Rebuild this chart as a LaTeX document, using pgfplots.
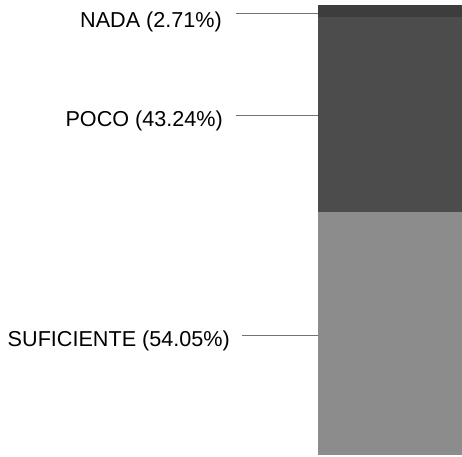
\documentclass[border=0pt]{standalone}
\usepackage{fontspec}
\setmainfont{Liberation Sans}
\usepackage{pgfplots}
\pgfplotsset{compat=1.18}
\tikzset{lbl/.style={inner sep=0pt, anchor=base east, font=\fontsize{21.6bp}{26bp}\selectfont}}
\begin{document}
\begin{tikzpicture}
\useasboundingbox (0,0) rectangle (462bp,457bp);
\begin{axis}[
  at={(0,2bp)}, anchor=south west,
  scale only axis, width=462bp, height=450bp,
  xmin=0, xmax=462, ymin=0, ymax=100,
  hide axis, clip=false,
  ybar stacked, bar width=144,
]
\addplot[fill=black!45, draw=none] coordinates {(390,54.05)};
\addplot[fill=black!70, draw=none] coordinates {(390,43.24)};
\addplot[fill=black!76, draw=none] coordinates {(390,2.71)};
\node[lbl] at (axis cs:222,95.1) {NADA (2.71\%)};
\node[lbl] at (axis cs:223,72.9) {POCO (43.24\%)};
\node[lbl] at (axis cs:230,24.0) {SUFICIENTE (54.05\%)};
\draw[black!55, line width=0.5pt] (axis cs:236,98.2) -- (axis cs:318,98.2);
\draw[black!55, line width=0.5pt] (axis cs:236,75.6) -- (axis cs:318,75.6);
\draw[black!55, line width=0.5pt] (axis cs:242,26.7) -- (axis cs:318,26.7);
\end{axis}
\end{tikzpicture}
\end{document}
